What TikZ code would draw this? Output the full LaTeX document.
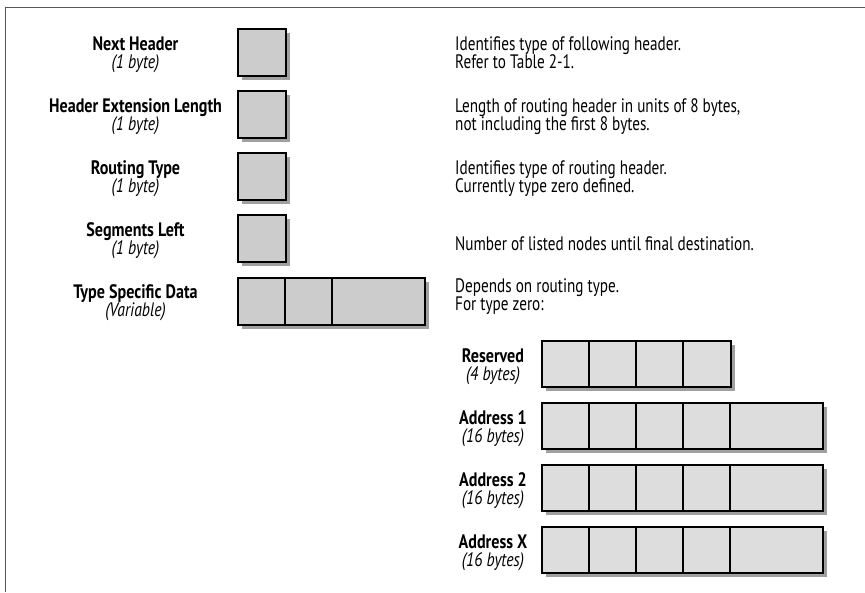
\documentclass[tikz,border=0pt]{standalone}
\usepackage{fontspec}
\setmainfont{PT Sans}
\newfontfamily\descfont{PT Sans}[FakeStretch=0.78]
\newfontfamily\labfont{PT Sans Bold}[FakeStretch=0.825]
\newfontfamily\szfont{PT Sans Italic}[FakeStretch=0.805]
\usetikzlibrary{backgrounds}
\definecolor{cellU}{HTML}{CCCCCC}
\definecolor{cellL}{HTML}{DDDDDD}
\definecolor{shadec}{HTML}{A0A0A0}
\definecolor{framec}{HTML}{555555}
\tikzset{
  cell/.style={draw=black, line width=1.1pt, inner sep=0pt, outer sep=0pt, anchor=north west, minimum height=47pt},
  cellup/.style={cell, fill=cellU},
  celllo/.style={cell, fill=cellL, minimum height=46pt},
  lab/.style={font=\labfont\fontsize{19.5}{18}\selectfont, anchor=base, inner sep=0pt},
  sz/.style={font=\szfont\fontsize{19.5}{18}\selectfont, anchor=base, inner sep=0pt},
  desc/.style={font=\descfont\fontsize{19.5}{18}\selectfont, anchor=base west, inner sep=0pt},
  shadow/.style={fill=shadec}
}
\begin{document}
\begin{tikzpicture}[x=1pt,y=-1pt]
\useasboundingbox (0,0) rectangle (865,592);
\draw[framec, line width=1.8pt] (5.5,592) -- (5.5,7.5) -- (865,7.5);

% upper boxes
\node[cellup, minimum width=48pt] (nhbox) at (238,29) {};
\node[cellup, minimum width=48pt] (hebox) at (238,91) {};
\node[cellup, minimum width=48pt] (rtbox) at (238,153) {};
\node[cellup, minimum width=48pt] (slbox) at (238,215) {};
\node[cellup, minimum width=47pt] (ts1) at (238,278) {};
\node[cellup, minimum width=47pt] (ts2) at (285,278) {};
\node[cellup, minimum width=93pt] (ts3) at (332,278) {};

% lower boxes
\node[celllo, minimum width=47pt] (r1) at (542,341) {};
\node[celllo, minimum width=47pt] (r2) at (589,341) {};
\node[celllo, minimum width=47pt] (r3) at (636,341) {};
\node[celllo, minimum width=48pt] (r4) at (683,341) {};

\node[celllo, minimum width=47pt] (a11) at (542,403) {};
\node[celllo, minimum width=47pt] (a12) at (589,403) {};
\node[celllo, minimum width=47pt] (a13) at (636,403) {};
\node[celllo, minimum width=47pt] (a14) at (683,403) {};
\node[celllo, minimum width=93pt] (a15) at (730,403) {};

\node[celllo, minimum width=47pt] (a21) at (542,465) {};
\node[celllo, minimum width=47pt] (a22) at (589,465) {};
\node[celllo, minimum width=47pt] (a23) at (636,465) {};
\node[celllo, minimum width=47pt] (a24) at (683,465) {};
\node[celllo, minimum width=93pt] (a25) at (730,465) {};

\node[celllo, minimum width=47pt] (ax1) at (542,527) {};
\node[celllo, minimum width=47pt] (ax2) at (589,527) {};
\node[celllo, minimum width=47pt] (ax3) at (636,527) {};
\node[celllo, minimum width=47pt] (ax4) at (683,527) {};
\node[celllo, minimum width=93pt] (ax5) at (730,527) {};

\begin{scope}[on background layer]
\fill[shadow] ([shift={(3.5,3.5)}]nhbox.north west) rectangle ([shift={(3.5,3.5)}]nhbox.south east);
\fill[shadow] ([shift={(3.5,3.5)}]hebox.north west) rectangle ([shift={(3.5,3.5)}]hebox.south east);
\fill[shadow] ([shift={(3.5,3.5)}]rtbox.north west) rectangle ([shift={(3.5,3.5)}]rtbox.south east);
\fill[shadow] ([shift={(3.5,3.5)}]slbox.north west) rectangle ([shift={(3.5,3.5)}]slbox.south east);
\fill[shadow] ([shift={(3.5,3.5)}]ts1.north west) rectangle ([shift={(3.5,3.5)}]ts3.south east);
\fill[shadow] ([shift={(3.5,3.5)}]r1.north west) rectangle ([shift={(3.5,3.5)}]r4.south east);
\fill[shadow] ([shift={(3.5,3.5)}]a11.north west) rectangle ([shift={(3.5,3.5)}]a15.south east);
\fill[shadow] ([shift={(3.5,3.5)}]a21.north west) rectangle ([shift={(3.5,3.5)}]a25.south east);
\fill[shadow] ([shift={(3.5,3.5)}]ax1.north west) rectangle ([shift={(3.5,3.5)}]ax5.south east);
\end{scope}

% upper labels
\node[lab] (nhl) at (135.5,50) {Next Header};
\node[sz] (nhs) at (135.5,68.5) {(1 byte)};
\node[lab] (hel) at (135.5,112) {Header Extension Length};
\node[sz] (hes) at (135.5,130.5) {(1 byte)};
\node[lab] (rtl) at (135.5,174) {Routing Type};
\node[sz] (rts) at (135.5,192.5) {(1 byte)};
\node[lab] (sll) at (135.5,236) {Segments Left};
\node[sz] (sls) at (135.5,254.5) {(1 byte)};
\node[lab] (tsl) at (135.5,298) {Type Specific Data};
\node[sz] (tss) at (135.5,316.5) {(Variable)};

% descriptions
\node[desc] (d1a) at (455,50) {Identifies type of following header.};
\node[desc] (d1b) at (455,68) {Refer to Table 2-1.};
\node[desc] (d2a) at (455,112) {Length of routing header in units of 8 bytes,};
\node[desc] (d2b) at (455,130) {not including the first 8 bytes.};
\node[desc] (d3a) at (455,174) {Identifies type of routing header.};
\node[desc] (d3b) at (455,192) {Currently type zero defined.};
\node[desc] (d4) at (455,250) {Number of listed nodes until final destination.};
\node[desc] (d5a) at (455,292) {Depends on routing type.};
\node[desc] (d5b) at (455,310) {For type zero:};

% lower labels
\node[lab] (rl) at (493,362) {Reserved};
\node[sz] (rs) at (493,380) {(4 bytes)};
\node[lab] (a1l) at (493,424) {Address 1};
\node[sz] (a1s) at (493,442) {(16 bytes)};
\node[lab] (a2l) at (493,486) {Address 2};
\node[sz] (a2s) at (493,504) {(16 bytes)};
\node[lab] (axl) at (493,548) {Address X};
\node[sz] (axs) at (493,566) {(16 bytes)};
\end{tikzpicture}
\end{document}
